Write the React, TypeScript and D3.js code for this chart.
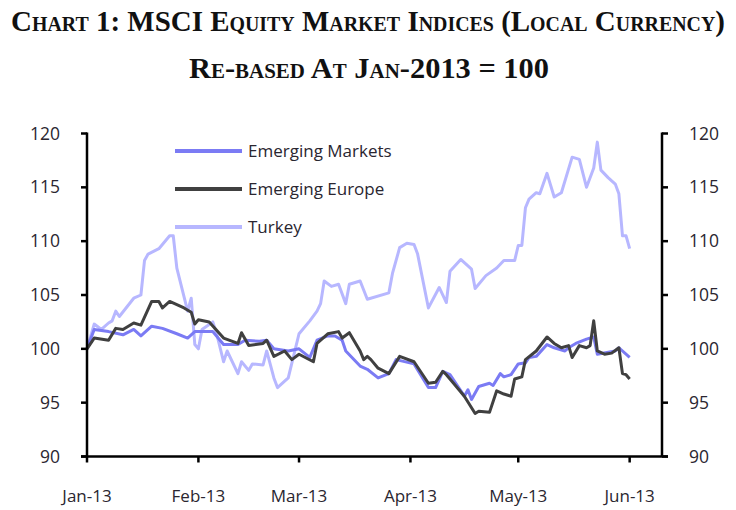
import React from "react";
import * as d3 from "d3";

// days since 1 Jan 2013
const emDays = [0, 2, 6, 10, 13, 15, 18, 21, 25, 28, 30, 35, 38, 42, 44, 48, 50, 52, 56, 59, 62, 64, 67, 69, 71, 72, 76, 78, 81, 84, 86, 91, 95, 97, 99, 101, 105, 106, 107, 109, 112, 113, 115, 116, 118, 120, 122, 123, 125, 128, 130, 133, 134, 136, 139, 141, 142, 147, 148, 151];
const emValues = [100, 101.8, 101.6, 101.3, 101.8, 101.2, 102.1, 101.9, 101.4, 101.0, 101.6, 101.6, 100.4, 100.4, 100.8, 100.7, 100.8, 100.0, 99.8, 100.0, 99.2, 100.8, 101.2, 101.2, 100.8, 99.8, 98.4, 98.1, 97.3, 97.7, 99.0, 98.6, 96.4, 96.4, 97.9, 97.6, 95.6, 96.2, 95.3, 96.5, 96.8, 96.6, 97.7, 97.4, 97.6, 98.6, 98.7, 99.2, 99.3, 100.4, 100.1, 99.8, 100.1, 100.5, 100.9, 101.1, 99.5, 99.8, 100.1, 99.2];

const eeDays = [0, 2, 6, 8, 10, 13, 15, 18, 20, 21, 23, 27, 29, 30, 31, 34, 38, 42, 43, 45, 49, 50, 52, 55, 57, 59, 63, 64, 67, 70, 71, 73, 76, 77, 78, 79, 81, 84, 87, 91, 95, 97, 99, 100, 102, 105, 108, 109, 112, 114, 116, 118, 119, 121, 122, 125, 128, 130, 132, 134, 135, 137, 139, 140, 141, 142, 144, 146, 148, 149, 150, 151];
const eeValues = [100, 101.0, 100.8, 101.9, 101.8, 102.4, 102.2, 104.4, 104.4, 103.8, 104.4, 103.8, 103.4, 102.3, 102.7, 102.5, 101.0, 100.5, 101.5, 100.3, 100.5, 100.8, 99.3, 99.8, 99.0, 99.5, 98.8, 100.5, 101.4, 101.6, 101.0, 101.5, 99.8, 99.0, 99.3, 99.0, 98.2, 97.7, 99.3, 98.8, 96.8, 96.9, 97.9, 97.6, 96.8, 95.6, 94.0, 94.2, 94.1, 96.1, 95.8, 95.6, 97.2, 97.4, 99.0, 99.8, 101.1, 100.5, 100.1, 100.3, 99.2, 100.3, 100.1, 100.3, 102.6, 99.8, 99.5, 99.6, 100.1, 97.7, 97.6, 97.2];

const trDays = [0, 2, 4, 6, 7, 8, 9, 13, 15, 16, 17, 20, 23, 24, 25, 28, 29, 30, 31, 32, 35, 36, 38, 39, 42, 43, 45, 46, 49, 50, 52, 53, 56, 59, 62, 64, 65, 66, 68, 70, 72, 73, 76, 78, 84, 85, 87, 89, 91, 92, 95, 98, 100, 101, 104, 107, 108, 111, 114, 116, 119, 120, 121, 122, 123, 125, 126, 128, 130, 132, 135, 137, 139, 141, 142, 143, 145, 147, 148, 149, 150, 151];
const trValues = [100, 102.3, 101.8, 102.4, 102.6, 103.5, 103.0, 104.7, 105.0, 108.2, 108.8, 109.3, 110.5, 110.5, 107.5, 103.5, 104.7, 100.4, 100.0, 101.8, 102.5, 101.5, 98.8, 99.8, 97.7, 98.8, 98.0, 98.6, 98.5, 99.8, 97.3, 96.4, 97.3, 101.4, 102.6, 103.5, 104.2, 106.3, 105.8, 106.0, 104.2, 106.0, 106.3, 104.6, 105.2, 107.0, 109.4, 109.8, 109.7, 108.8, 103.8, 105.7, 104.3, 107.2, 108.3, 107.4, 105.6, 106.8, 107.5, 108.2, 108.2, 109.6, 109.6, 113.1, 113.9, 114.5, 114.4, 116.3, 114.1, 114.5, 117.8, 117.6, 115.0, 116.8, 119.2, 116.6, 115.9, 115.3, 114.4, 110.5, 110.5, 109.3];

const seriesNames = ["Emerging Markets", "Emerging Europe", "Turkey"];
const seriesColors = ["#7b7bf4", "#404040", "#b7b7ff"];
const yTicks = [90, 95, 100, 105, 110, 115, 120];
const monthTicks = ["2013-01-01", "2013-02-01", "2013-03-01", "2013-04-01", "2013-05-01", "2013-06-01"];

const W = 736;
const H = 510;
const start = new Date(2013, 0, 1);
const toDate = (d: number) => d3.timeDay.offset(start, d);

export default function App() {
  const x = d3
    .scaleTime()
    .domain([start, new Date(2013, 5, 10)])
    .range([87, 662]);
  const y = d3.scaleLinear().domain([90, 120]).range([456.5, 133.5]);

  const series = [
    { days: emDays, values: emValues },
    { days: eeDays, values: eeValues },
    { days: trDays, values: trValues },
  ];
  const line = d3
    .line<[number, number]>()
    .x((p) => x(toDate(p[0])))
    .y((p) => y(p[1]));

  const fmt = d3.timeFormat("%b-%y");
  const font = "'Open Sans', Lato, sans-serif";
  const serif = "'Liberation Serif', 'DejaVu Serif', serif";
  const textColor = "#2a2630";
  const parse = d3.timeParse("%Y-%m-%d");

  // draw order: Turkey first, then EM, then EE on top
  const order = [2, 0, 1];
  const [x0, x1] = x.range();

  return (
    <div style={{ position: "absolute", left: 0, top: 0 }}>
      <svg width={W} height={H} style={{ display: "block", background: "#fff" }}>
        {/* title, stretched vertically to get the tall condensed look */}
        <g
          fontFamily={serif}
          fontWeight="bold"
          fontSize={25}
          fill="#111"
          textAnchor="middle"
          style={{ fontVariant: "small-caps" }}
        >
          <g transform={`translate(${W / 2},31) scale(1,1.2)`}>
            <text x={0} y={0} textLength={714} lengthAdjust="spacingAndGlyphs">
              Chart 1: MSCI Equity Market Indices (Local Currency)
            </text>
          </g>
          <g transform={`translate(${W / 2 + 1},78) scale(1,1.2)`}>
            <text x={0} y={0} textLength={360} lengthAdjust="spacingAndGlyphs">
              Re-based At Jan-2013 = 100
            </text>
          </g>
        </g>

        {order.map((i) => (
          <path
            key={i}
            d={line(series[i].days.map((d, k) => [d, series[i].values[k]] as [number, number])) || ""}
            fill="none"
            stroke={seriesColors[i]}
            strokeWidth={3}
            strokeLinejoin="round"
          />
        ))}

        {/* axes */}
        <g stroke="#000" strokeWidth={2.5}>
          <line x1={x0} x2={x0} y1={y(120) - 1} y2={y(90)} />
          <line x1={x1} x2={x1} y1={y(120) - 1} y2={y(90)} />
          <line x1={x0 - 6} x2={x1 + 6} y1={y(90)} y2={y(90)} />
          {yTicks.map((t) => (
            <g key={t}>
              <line x1={x0 - 6} x2={x0} y1={y(t)} y2={y(t)} />
              <line x1={x1} x2={x1 + 6} y1={y(t)} y2={y(t)} />
            </g>
          ))}
          {monthTicks.map((m) => {
            const xx = x(parse(m) as Date);
            return <line key={m} x1={xx} x2={xx} y1={y(90)} y2={y(90) + 6} />;
          })}
        </g>

        <g fontFamily={font} fontSize={17.5} fill={textColor}>
          {yTicks.map((t) => (
            <g key={t}>
              <text x={60} y={y(t) + 6} textAnchor="end">
                {t}
              </text>
              <text x={689} y={y(t) + 6} textAnchor="start">
                {t}
              </text>
            </g>
          ))}
          {monthTicks.map((m) => {
            const dt = parse(m) as Date;
            return (
              <text key={m} x={x(dt)} y={502} textAnchor="middle" fontSize={17}>
                {fmt(dt)}
              </text>
            );
          })}
        </g>

        {/* legend */}
        <g fontFamily={font} fontSize={17} fill={textColor}>
          {seriesNames.map((n, i) => (
            <g key={n} transform={`translate(175,${151 + i * 38})`}>
              <line x1={0} x2={67} y1={0} y2={0} stroke={seriesColors[i]} strokeWidth={4} />
              <text x={73} y={6}>
                {n}
              </text>
            </g>
          ))}
        </g>
      </svg>
    </div>
  );
}
